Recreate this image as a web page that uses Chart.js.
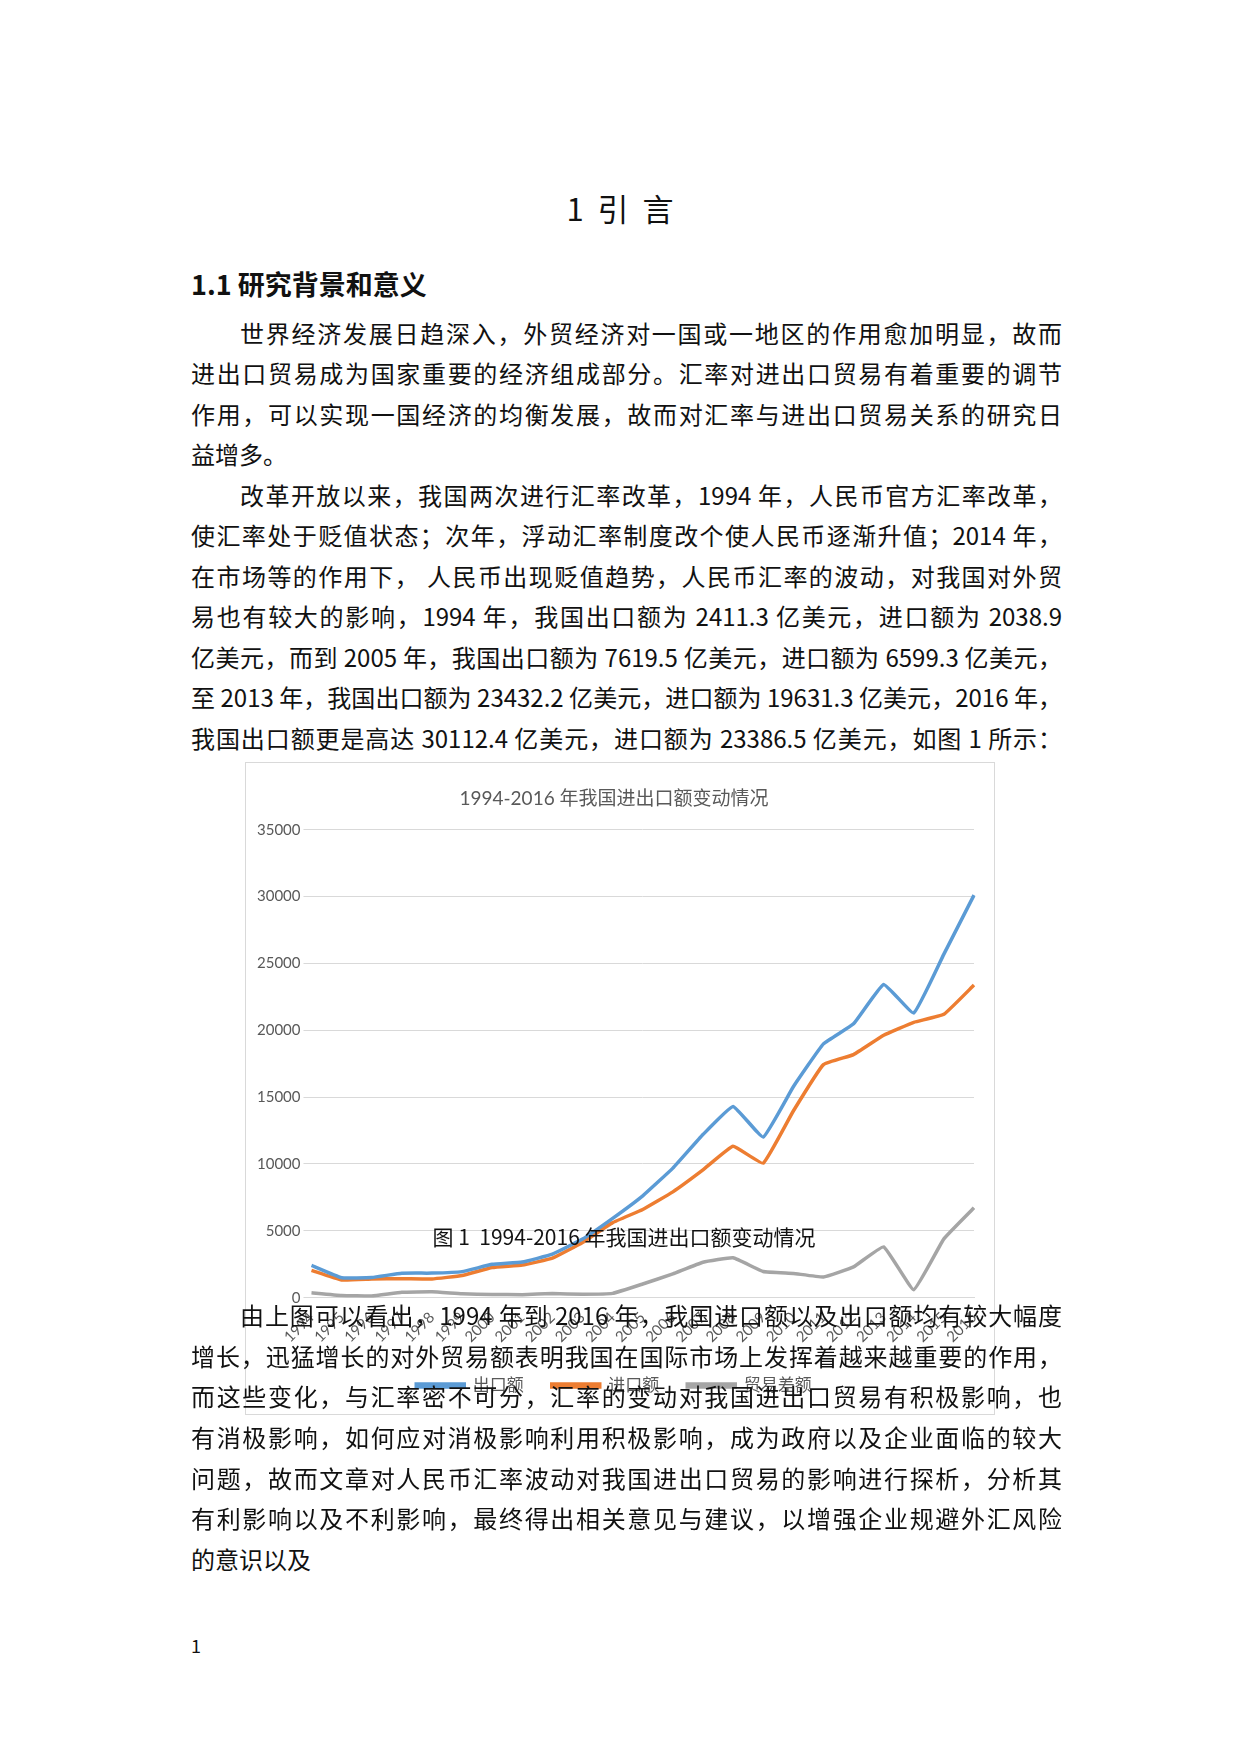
<!DOCTYPE html>
<html><head><meta charset="utf-8">
<script src="https://cdn.jsdelivr.net/npm/chart.js@4/dist/chart.umd.min.js"></script>
<style>
body{margin:0;width:1240px;height:1754px;background:#fff;position:relative;font-family:"Noto Sans CJK SC","Noto Sans",sans-serif;color:#111;overflow:hidden}
.ln{position:absolute;font-size:24px;height:40px;line-height:40px;white-space:nowrap}
.j{text-align:justify;text-align-last:justify}
#box{position:absolute;left:245px;top:762px;width:748px;height:651px;border:1.5px solid #d9d9d9}
#inner{position:relative;width:748px;height:651px}
</style></head><body>
<div class="ln" style="left:0;width:1240px;top:186px;text-align:center;font-size:31px;height:44px;line-height:44px;white-space:pre">1  引  言</div>
<div class="ln" style="left:191px;top:264px;font-size:27px;font-weight:bold">1.1 研究背景和意义</div>
<div id="box"><div id="inner"><canvas id="c"></canvas></div></div>
<div class="ln" style="left:0;width:1248px;top:1216px;text-align:center;font-size:21px;white-space:pre">图 1  1994-2016 年我国进出口额变动情况</div>
<div class="ln" style="left:191px;top:1625px;font-size:18px">1</div>
<script>
// page text, one entry per printed line: [text, centre y, indented, justified]
const bodyLines = [
  ['世界经济发展日趋深入，外贸经济对一国或一地区的作用愈加明显，故而', 333, true, true],
  ['进出口贸易成为国家重要的经济组成部分。汇率对进出口贸易有着重要的调节', 373, false, true],
  ['作用，可以实现一国经济的均衡发展，故而对汇率与进出口贸易关系的研究日', 414, false, true],
  ['益增多。', 454, false, false],
  ['改革开放以来，我国两次进行汇率改革，1994 年，人民币官方汇率改革，', 495, true, true],
  ['使汇率处于贬值状态；次年，浮动汇率制度改个使人民币逐渐升值；2014 年，', 535, false, true],
  ['在市场等的作用下， 人民币出现贬值趋势，人民币汇率的波动，对我国对外贸', 576, false, true],
  ['易也有较大的影响，1994 年，我国出口额为 2411.3 亿美元，进口额为 2038.9', 616, false, true],
  ['亿美元，而到 2005 年，我国出口额为 7619.5 亿美元，进口额为 6599.3 亿美元，', 657, false, true],
  ['至 2013 年，我国出口额为 23432.2 亿美元，进口额为 19631.3 亿美元，2016 年，', 697, false, true],
  ['我国出口额更是高达 30112.4 亿美元，进口额为 23386.5 亿美元，如图 1 所示：', 738, false, true],
  ['由上图可以看出，1994 年到 2016 年，我国进口额以及出口额均有较大幅度', 1315, true, true],
  ['增长，迅猛增长的对外贸易额表明我国在国际市场上发挥着越来越重要的作用，', 1356, false, true],
  ['而这些变化，与汇率密不可分，汇率的变动对我国进出口贸易有积极影响，也', 1396, false, true],
  ['有消极影响，如何应对消极影响利用积极影响，成为政府以及企业面临的较大', 1437, false, true],
  ['问题，故而文章对人民币汇率波动对我国进出口贸易的影响进行探析，分析其', 1478, false, true],
  ['有利影响以及不利影响，最终得出相关意见与建议，以增强企业规避外汇风险', 1518, false, true],
  ['的意识以及', 1559, false, false]
];
bodyLines.forEach(([t, y, ind, just]) => {
  const d = document.createElement('div');
  d.className = 'ln' + (just ? ' j' : '');
  d.textContent = t;
  const left = ind ? 240 : 191;
  d.style.left = left + 'px';
  d.style.top = (y - 20) + 'px';
  if (just) d.style.width = (1062 - left) + 'px';
  document.body.appendChild(d);
});

const years = ['1994','1995','1996','1997','1998','1999','2000','2001','2002','2003','2004','2005',
  '2006','2007','2008','2009','2010','2011','2012','2013','2014','2015','2016'];
const exports_ = [2411, 1488, 1510, 1828, 1837, 1949, 2492, 2661, 3256, 4382, 5933, 7620,
  9690, 12205, 14307, 12016, 15778, 18984, 20487, 23432, 21300, 25700, 30112];
const imports_ = [2039, 1321, 1388, 1424, 1402, 1657, 2251, 2436, 2952, 4128, 5612, 6599,
  7915, 9558, 11326, 10059, 13962, 17435, 18184, 19631, 20600, 21200, 23386];
const balance = [370, 167, 122, 404, 435, 292, 241, 225, 304, 255, 321, 1021,
  1775, 2647, 2981, 1957, 1815, 1549, 2303, 3801, 600, 4400, 6726];

const font = { family: 'Lato, "Noto Sans CJK SC", sans-serif', size: 15 };
const mk = (label, data, color) => ({ label, data, borderColor: color, backgroundColor: color,
  borderWidth: 3.5, pointRadius: 0, tension: 0.1, fill: false });

new Chart(document.getElementById('c'), {
  type: 'line',
  data: { labels: years, datasets: [
    mk('出口额', exports_, '#5B9BD5'),
    mk('进口额', imports_, '#ED7D31'),
    mk('贸易差额', balance, '#A5A5A5')
  ]},
  options: {
    responsive: true, maintainAspectRatio: false, animation: false,
    layout: { padding: { left: 8, right: 20, top: 8, bottom: 10 } },
    scales: {
      x: { grid: { display: false }, border: { color: '#d9d9d9' },
        ticks: { color: '#595959', font, maxRotation: 45, minRotation: 45, autoSkip: false } },
      y: { min: 0, max: 35000, grid: { color: '#d9d9d9' }, border: { display: false },
        ticks: { stepSize: 5000, color: '#595959', font, callback: v => String(v) } }
    },
    plugins: {
      title: { display: true, text: '1994-2016 年我国进出口额变动情况', color: '#595959',
        font: { family: font.family, size: 19, weight: 'normal' }, padding: { top: 16, bottom: 20 } },
      legend: { position: 'bottom', labels: { color: '#595959', font: { family: font.family, size: 17 },
        boxWidth: 48, boxHeight: 3, padding: 28 } },
      tooltip: { enabled: false }
    }
  }
});
</script>
</body></html>
